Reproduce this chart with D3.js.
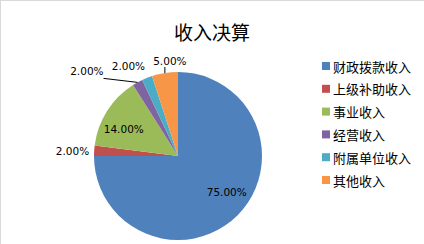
<!DOCTYPE html>
<html>
<head>
<meta charset="utf-8">
<script src="https://cdn.jsdelivr.net/npm/d3@7"></script>
<style>
  body { margin: 0; background: #fff; }
</style>
</head>
<body>
<script>
var w = 424;
var h = 244;

// data
var categories = ["财政拨款收入", "上级补助收入", "事业收入", "经营收入", "附属单位收入", "其他收入"];
var values = [75, 2, 14, 2, 2, 5];
var labels = ["75.00%", "2.00%", "14.00%", "2.00%", "2.00%", "5.00%"];
var colors = ["#4F81BD", "#C0504D", "#9BBB59", "#8064A2", "#4BACC6", "#F79646"];

var cx = 178, cy = 156, r = 84;

var svg = d3.select("body")
  .append("svg")
  .attr("width", w)
  .attr("height", h);

// outer frame
svg.append("rect")
  .attr("x", 0.5).attr("y", 0.5)
  .attr("width", w + 10).attr("height", h + 10)
  .attr("fill", "#fff")
  .attr("stroke", "#d9d9d9");

svg.append("text")
  .text("收入决算")
  .attr("x", 212)
  .attr("y", 31)
  .attr("text-anchor", "middle")
  .attr("dominant-baseline", "central")
  .attr("font-family", "Noto Sans CJK SC")
  .attr("font-size", "19px")
  .attr("fill", "#000");

var pie = d3.pie().sort(null).value(function(d) { return d; });
var arcs = pie(values);
var arc = d3.arc().innerRadius(0).outerRadius(r);

var g = svg.append("g").attr("transform", "translate(" + cx + "," + cy + ")");

g.selectAll("path")
  .data(arcs)
  .enter()
  .append("path")
  .attr("d", arc)
  .attr("fill", function(d, i) { return colors[i]; });

// point on the rim at the middle of a slice
function rim(d, rr) {
  var a = (d.startAngle + d.endAngle) / 2;
  return [Math.sin(a) * rr, -Math.cos(a) * rr];
}

// label placement: inside labels use a radius, outside ones nudge off the rim
var place = [
  { inside: 0.72, dx: 6, dy: -7, anchor: "middle" },
  { dx: -5, dy: 0, anchor: "end" },
  { inside: 0.68, dx: -6, dy: 4, anchor: "middle" },
  { dx: -34, dy: -11, anchor: "end", leader: true },
  { dx: -2, dy: -12, anchor: "end" },
  { dx: 5, dy: -12, anchor: "middle", leader: true }
];

arcs.forEach(function(d, i) {
  var p = place[i];
  var pt = p.inside ? rim(d, r * p.inside) : rim(d, r);
  var lx = pt[0] + p.dx, ly = pt[1] + p.dy;
  if (p.leader) {
    var ex = p.anchor === "end" ? lx : pt[0];
    var ey = p.anchor === "end" ? ly + 7 : ly + 6;
    g.append("line")
      .attr("x1", ex).attr("y1", ey)
      .attr("x2", pt[0]).attr("y2", pt[1])
      .attr("stroke", "#000")
      .attr("stroke-width", 1);
  }
  g.append("text")
    .text(labels[i])
    .attr("x", lx)
    .attr("y", ly)
    .attr("text-anchor", p.anchor)
    .attr("dominant-baseline", "central")
    .attr("font-family", "DejaVu Sans")
    .attr("font-size", "10.5px")
    .attr("fill", "#000");
});

// legend
var legend = svg.selectAll(".leg")
  .data(categories)
  .enter()
  .append("g")
  .attr("class", "leg")
  .attr("transform", function(d, i) { return "translate(322," + (66 + i * 22.8) + ")"; });

legend.append("rect")
  .attr("x", 0).attr("y", -4)
  .attr("width", 8).attr("height", 8)
  .attr("fill", function(d, i) { return colors[i]; });

legend.append("text")
  .text(function(d) { return d; })
  .attr("x", 11)
  .attr("y", 0)
  .attr("dominant-baseline", "central")
  .attr("font-family", "Noto Sans CJK SC")
  .attr("font-size", "13px")
  .attr("fill", "#000");
</script>
</body>
</html>
